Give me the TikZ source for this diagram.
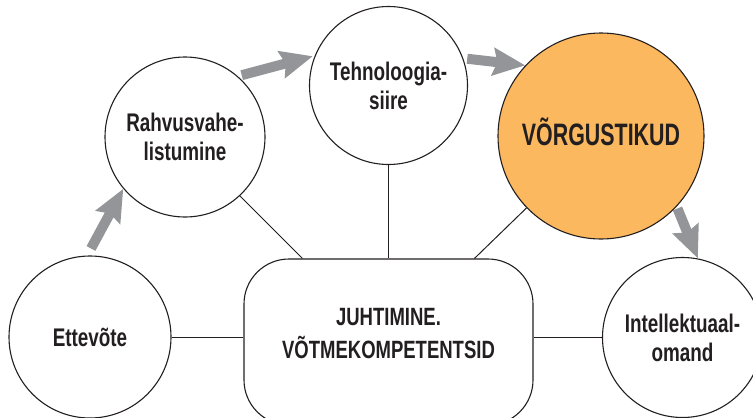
\documentclass[tikz,border=0pt]{standalone}
\usepackage{fontspec}
\setmainfont{Liberation Sans}[FakeStretch=0.74]
\newfontfamily\hubfont{Liberation Sans}[FakeStretch=0.69]
\usetikzlibrary{arrows.meta,calc}
\definecolor{ink}{HTML}{231F20}
\definecolor{flow}{HTML}{939598}
\definecolor{hub}{HTML}{FBB85F}
\begin{document}
\begin{tikzpicture}[x=1pt,y=-1pt,
  topic/.style={circle,draw=ink,line width=1.1pt,fill=white,inner sep=0pt,
    align=center,text=ink,font=\bfseries\fontsize{25.5}{29}\selectfont},
  hubnode/.style={topic,fill=hub,font=\hubfont\bfseries\fontsize{31}{36}\selectfont},
  core/.style={draw=ink,line width=1.1pt,rounded corners=45pt,fill=white,
    minimum width=289pt,minimum height=166pt,inner sep=0pt},
  label/.style={align=center,text=ink,font=\bfseries\fontsize{25}{33}\selectfont},
  link/.style={draw=ink,line width=1pt},
  flowarrow/.style={draw=flow,line width=10pt,
    -{Stealth[length=32pt,width=27pt,inset=4pt]}}]
\useasboundingbox (0,0) rectangle (753,418);
\clip (0,0) rectangle (753,418);

% central rounded box and its caption
\node[core] (box) at (388.5,342) {};
\node[label] (boxtext) at (388.5,334) {JUHTIMINE.\\VÕTMEKOMPETENTSID};

% surrounding topics
\node[topic,minimum size=162pt] (ett) at (90,337) {Ettevõte};
\node[topic,minimum size=160pt] (rah) at (185,137) {Rahvusvahe-\\listumine};
\node[topic,minimum size=158pt] (tech) at (388.5,85.5) {Tehnoloogia-\\siire};
\node[hubnode,minimum size=206pt] (vor) at (601,136) {\raisebox{8pt}{VÕRGUSTIKUD}};
\node[topic,minimum size=160pt] (int) at (682.5,337.5) {Intellektuaal-\\omand};

% thin links to the centre
\draw[link] (ett.east) -- (ett.east -| box.west);
\draw[link] (int.west) -- (int.west -| box.east);
\draw[link] (tech.south) -- (tech.south |- box.north);
\draw[link] (rah.-47) -- ($(box.north west)+(59,0)$);
\draw[link] (vor.224) -- ($(box.north west)+(231,0)$);

% flow arrows between topics
\draw[flowarrow,shorten <=8pt] (ett.92) -- (rah.220);
\draw[flowarrow,shorten <=4pt,shorten >=2pt] (rah.49) -- (tech.158);
\draw[flowarrow,shorten <=4pt] (tech.20) -- (vor.137);
\draw[flowarrow,shorten <=2pt] (vor.-43) -- (int.79);
\end{tikzpicture}
\end{document}
